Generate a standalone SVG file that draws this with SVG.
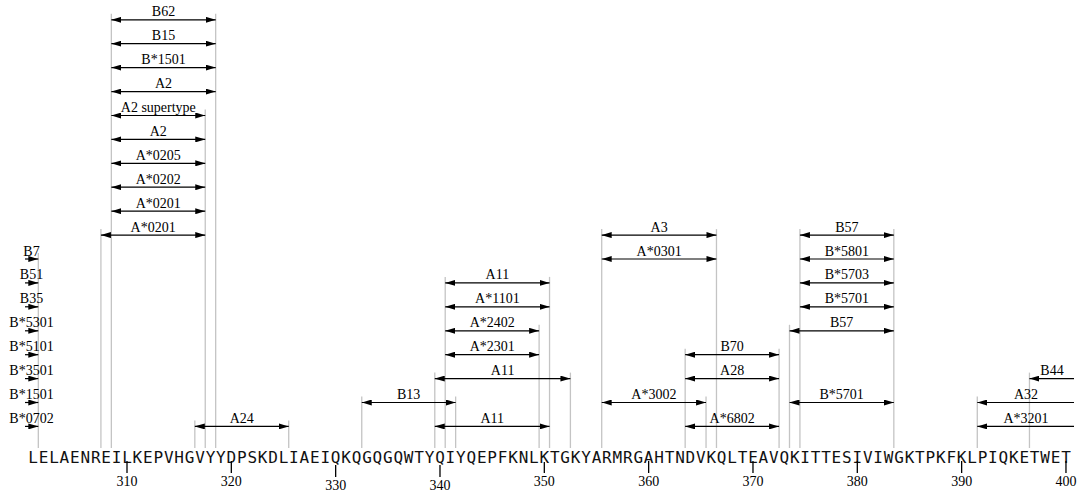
<svg xmlns="http://www.w3.org/2000/svg" width="1080" height="492" viewBox="0 0 1080 492">
<style>
.lbl{font-family:"Liberation Serif","Times New Roman",serif;font-size:14px;fill:#000;text-anchor:middle}
.arr{stroke:#000;stroke-width:1.2;fill:none}
.both{marker-start:url(#ah);marker-end:url(#ah)}
.endonly{marker-end:url(#ah)}
.startonly{marker-start:url(#ah)}
.guide{stroke:#c4c4c4;stroke-width:1.3}
.tick{stroke:#000;stroke-width:1.3}
.seq{font-family:"DejaVu Sans Mono",monospace;font-size:16px;fill:#111;text-anchor:middle}
</style>
<defs>
<marker id="ah" viewBox="0 0 10 6" refX="10" refY="3" markerWidth="10" markerHeight="6" markerUnits="userSpaceOnUse" orient="auto-start-reverse">
<path d="M0,0 L10,3 L0,6 z" fill="#000"/>
</marker>
</defs>
<rect width="1080" height="492" fill="#fff"/>
<g id="guides">
<line class="guide" x1="38.32" y1="253" x2="38.32" y2="448"/>
<line class="guide" x1="100.92" y1="229.1" x2="100.92" y2="448"/>
<line class="guide" x1="111.35" y1="13.8" x2="111.35" y2="448"/>
<line class="guide" x1="194.82" y1="420.4" x2="194.82" y2="448"/>
<line class="guide" x1="205.25" y1="109.5" x2="205.25" y2="448"/>
<line class="guide" x1="215.68" y1="13.8" x2="215.68" y2="448"/>
<line class="guide" x1="288.72" y1="420.4" x2="288.72" y2="448"/>
<line class="guide" x1="361.75" y1="396.5" x2="361.75" y2="448"/>
<line class="guide" x1="434.78" y1="372.6" x2="434.78" y2="448"/>
<line class="guide" x1="445.21" y1="276.9" x2="445.21" y2="448"/>
<line class="guide" x1="455.64" y1="396.5" x2="455.64" y2="448"/>
<line class="guide" x1="539.11" y1="324.8" x2="539.11" y2="448"/>
<line class="guide" x1="549.54" y1="276.9" x2="549.54" y2="448"/>
<line class="guide" x1="570.41" y1="372.6" x2="570.41" y2="448"/>
<line class="guide" x1="601.71" y1="229.1" x2="601.71" y2="448"/>
<line class="guide" x1="685.17" y1="348.7" x2="685.17" y2="448"/>
<line class="guide" x1="706.04" y1="396.5" x2="706.04" y2="448"/>
<line class="guide" x1="716.47" y1="229.1" x2="716.47" y2="448"/>
<line class="guide" x1="779.07" y1="348.7" x2="779.07" y2="448"/>
<line class="guide" x1="789.5" y1="324.8" x2="789.5" y2="448"/>
<line class="guide" x1="799.93" y1="229.1" x2="799.93" y2="448"/>
<line class="guide" x1="893.83" y1="229.1" x2="893.83" y2="448"/>
<line class="guide" x1="977.29" y1="396.5" x2="977.29" y2="448"/>
<line class="guide" x1="1029.46" y1="372.6" x2="1029.46" y2="448"/>
</g>
<g id="connectors">
<g id="r0-B62"><line class="arr both" x1="111.35" y1="19.8" x2="215.68" y2="19.8"/><text class="lbl" x="163.5" y="16.3">B62</text></g>
<g id="r1-B15"><line class="arr both" x1="111.35" y1="43.7" x2="215.68" y2="43.7"/><text class="lbl" x="163.5" y="40.2">B15</text></g>
<g id="r2-B1501"><line class="arr both" x1="111.35" y1="67.6" x2="215.68" y2="67.6"/><text class="lbl" x="163.5" y="64.1">B*1501</text></g>
<g id="r3-A2"><line class="arr both" x1="111.35" y1="91.6" x2="215.68" y2="91.6"/><text class="lbl" x="163.5" y="88.1">A2</text></g>
<g id="r4-A2sup"><line class="arr both" x1="111.35" y1="115.5" x2="205.25" y2="115.5"/><text class="lbl" x="158.3" y="112">A2 supertype</text></g>
<g id="r5-A2"><line class="arr both" x1="111.35" y1="139.4" x2="205.25" y2="139.4"/><text class="lbl" x="158.3" y="135.9">A2</text></g>
<g id="r6-A0205"><line class="arr both" x1="111.35" y1="163.3" x2="205.25" y2="163.3"/><text class="lbl" x="158.3" y="159.8">A*0205</text></g>
<g id="r7-A0202"><line class="arr both" x1="111.35" y1="187.2" x2="205.25" y2="187.2"/><text class="lbl" x="158.3" y="183.7">A*0202</text></g>
<g id="r8-A0201"><line class="arr both" x1="111.35" y1="211.2" x2="205.25" y2="211.2"/><text class="lbl" x="158.3" y="207.7">A*0201</text></g>
<g id="r9-A0201"><line class="arr both" x1="100.92" y1="235.1" x2="205.25" y2="235.1"/><text class="lbl" x="153.1" y="231.6">A*0201</text></g>
<g id="r9-A3"><line class="arr both" x1="601.71" y1="235.1" x2="716.47" y2="235.1"/><text class="lbl" x="659.1" y="231.6">A3</text></g>
<g id="r9-B57"><line class="arr both" x1="799.93" y1="235.1" x2="893.83" y2="235.1"/><text class="lbl" x="846.9" y="231.6">B57</text></g>
<g id="r10-B7"><line class="arr endonly" x1="25" y1="259" x2="38.32" y2="259"/><text class="lbl" x="31.5" y="255.5">B7</text></g>
<g id="r10-A0301"><line class="arr both" x1="601.71" y1="259" x2="716.47" y2="259"/><text class="lbl" x="659.1" y="255.5">A*0301</text></g>
<g id="r10-B5801"><line class="arr both" x1="799.93" y1="259" x2="893.83" y2="259"/><text class="lbl" x="846.9" y="255.5">B*5801</text></g>
<g id="r11-B51"><line class="arr endonly" x1="25" y1="282.9" x2="38.32" y2="282.9"/><text class="lbl" x="31.5" y="279.4">B51</text></g>
<g id="r11-A11"><line class="arr both" x1="445.21" y1="282.9" x2="549.54" y2="282.9"/><text class="lbl" x="497.4" y="279.4">A11</text></g>
<g id="r11-B5703"><line class="arr both" x1="799.93" y1="282.9" x2="893.83" y2="282.9"/><text class="lbl" x="846.9" y="279.4">B*5703</text></g>
<g id="r12-B35"><line class="arr endonly" x1="25" y1="306.8" x2="38.32" y2="306.8"/><text class="lbl" x="31.5" y="303.3">B35</text></g>
<g id="r12-A1101"><line class="arr both" x1="445.21" y1="306.8" x2="549.54" y2="306.8"/><text class="lbl" x="497.4" y="303.3">A*1101</text></g>
<g id="r12-B5701"><line class="arr both" x1="799.93" y1="306.8" x2="893.83" y2="306.8"/><text class="lbl" x="846.9" y="303.3">B*5701</text></g>
<g id="r13-B5301"><line class="arr endonly" x1="25" y1="330.8" x2="38.32" y2="330.8"/><text class="lbl" x="31.5" y="327.3">B*5301</text></g>
<g id="r13-A2402"><line class="arr both" x1="445.21" y1="330.8" x2="539.11" y2="330.8"/><text class="lbl" x="492.2" y="327.3">A*2402</text></g>
<g id="r13-B57"><line class="arr both" x1="789.5" y1="330.8" x2="893.83" y2="330.8"/><text class="lbl" x="841.7" y="327.3">B57</text></g>
<g id="r14-B5101"><line class="arr endonly" x1="25" y1="354.7" x2="38.32" y2="354.7"/><text class="lbl" x="31.5" y="351.2">B*5101</text></g>
<g id="r14-A2301"><line class="arr both" x1="445.21" y1="354.7" x2="539.11" y2="354.7"/><text class="lbl" x="492.2" y="351.2">A*2301</text></g>
<g id="r14-B70"><line class="arr both" x1="685.17" y1="354.7" x2="779.07" y2="354.7"/><text class="lbl" x="732.1" y="351.2">B70</text></g>
<g id="r15-B3501"><line class="arr endonly" x1="25" y1="378.6" x2="38.32" y2="378.6"/><text class="lbl" x="31.5" y="375.1">B*3501</text></g>
<g id="r15-A11"><line class="arr both" x1="434.78" y1="378.6" x2="570.41" y2="378.6"/><text class="lbl" x="502.6" y="375.1">A11</text></g>
<g id="r15-A28"><line class="arr both" x1="685.17" y1="378.6" x2="779.07" y2="378.6"/><text class="lbl" x="732.1" y="375.1">A28</text></g>
<g id="r15-B44"><line class="arr startonly" x1="1029.46" y1="378.6" x2="1074" y2="378.6"/><text class="lbl" x="1052" y="375.1">B44</text></g>
<g id="r16-B1501"><line class="arr endonly" x1="25" y1="402.5" x2="38.32" y2="402.5"/><text class="lbl" x="31.5" y="399">B*1501</text></g>
<g id="r16-B13"><line class="arr both" x1="361.75" y1="402.5" x2="455.64" y2="402.5"/><text class="lbl" x="408.7" y="399">B13</text></g>
<g id="r16-A3002"><line class="arr both" x1="601.71" y1="402.5" x2="706.04" y2="402.5"/><text class="lbl" x="653.9" y="399">A*3002</text></g>
<g id="r16-B5701"><line class="arr both" x1="789.5" y1="402.5" x2="893.83" y2="402.5"/><text class="lbl" x="841.7" y="399">B*5701</text></g>
<g id="r16-A32"><line class="arr startonly" x1="977.29" y1="402.5" x2="1074" y2="402.5"/><text class="lbl" x="1026" y="399">A32</text></g>
<g id="r17-B0702"><line class="arr endonly" x1="25" y1="426.4" x2="38.32" y2="426.4"/><text class="lbl" x="31.5" y="422.9">B*0702</text></g>
<g id="r17-A24"><line class="arr both" x1="194.82" y1="426.4" x2="288.72" y2="426.4"/><text class="lbl" x="241.8" y="422.9">A24</text></g>
<g id="r17-A11"><line class="arr both" x1="434.78" y1="426.4" x2="549.54" y2="426.4"/><text class="lbl" x="492.2" y="422.9">A11</text></g>
<g id="r17-A6802"><line class="arr both" x1="685.17" y1="426.4" x2="779.07" y2="426.4"/><text class="lbl" x="732.1" y="422.9">A*6802</text></g>
<g id="r17-A3201"><line class="arr startonly" x1="977.29" y1="426.4" x2="1074" y2="426.4"/><text class="lbl" x="1026" y="422.9">A*3201</text></g>
</g>
<g id="sequence">
<text class="seq" y="463" x="33.10 43.53 53.97 64.40 74.84 85.27 95.70 106.13 116.57 127.00 137.43 147.87 158.30 168.73 179.17 189.60 200.03 210.46 220.90 231.33 241.76 252.20 262.63 273.06 283.50 293.93 304.36 314.79 325.23 335.66 346.09 356.53 366.96 377.39 387.83 398.26 408.69 419.12 429.56 439.99 450.42 460.86 471.29 481.72 492.16 502.59 513.02 523.45 533.89 544.32 554.75 565.19 575.62 586.05 596.49 606.92 617.35 627.78 638.22 648.65 659.08 669.52 679.95 690.38 700.82 711.25 721.68 732.11 742.55 752.98 763.41 773.85 784.28 794.71 805.15 815.58 826.01 836.44 846.88 857.31 867.74 878.18 888.61 899.04 909.48 919.91 930.34 940.77 951.21 961.64 972.07 982.51 992.94 1003.37 1013.81 1024.24 1034.67 1045.10 1055.54 1065.97">LELAENREILKEPVHGVYYDPSKDLIAEIQKQGQGQWTYQIYQEPFKNLKTGKYARMRGAHTNDVKQLTEAVQKITTESIVIWGKTPKFKLPIQKETWET</text>
</g>
<g id="axis">
<line class="tick" x1="127" y1="461" x2="127" y2="473"/><text class="lbl" x="127" y="486">310</text>
<line class="tick" x1="231.33" y1="461" x2="231.33" y2="473"/><text class="lbl" x="231.33" y="486">320</text>
<line class="tick" x1="335.66" y1="465" x2="335.66" y2="477"/><text class="lbl" x="335.66" y="490">330</text>
<line class="tick" x1="439.99" y1="465" x2="439.99" y2="477"/><text class="lbl" x="439.99" y="490">340</text>
<line class="tick" x1="544.32" y1="462" x2="544.32" y2="473"/><text class="lbl" x="544.32" y="486">350</text>
<line class="tick" x1="648.65" y1="461" x2="648.65" y2="473"/><text class="lbl" x="648.65" y="486">360</text>
<line class="tick" x1="752.98" y1="461" x2="752.98" y2="473"/><text class="lbl" x="752.98" y="486">370</text>
<line class="tick" x1="857.31" y1="461" x2="857.31" y2="473"/><text class="lbl" x="857.31" y="486">380</text>
<line class="tick" x1="961.64" y1="461" x2="961.64" y2="473"/><text class="lbl" x="961.64" y="486">390</text>
<line class="tick" x1="1065.97" y1="461" x2="1065.97" y2="473"/><text class="lbl" x="1065.97" y="486">400</text>
</g>
</svg>
